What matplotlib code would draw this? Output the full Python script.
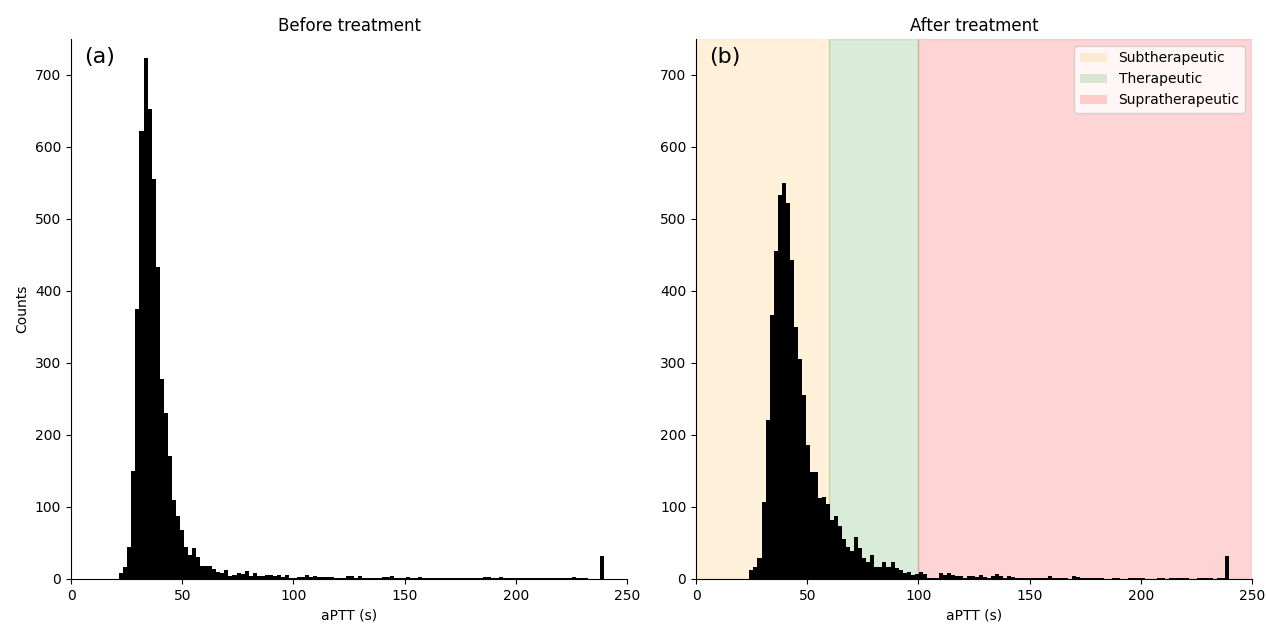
import numpy as np
import matplotlib
matplotlib.use("Agg")
import matplotlib.pyplot as plt
from matplotlib.patches import Patch

# ---- data (counts per histogram bin) ----
before_range = (21.7, 239.8)
before_counts = [8, 16, 45, 150, 375, 622, 723, 653, 555, 433, 278, 231, 171, 110, 88, 68, 44, 33, 43, 30,
                 18, 18, 18, 14, 10, 8, 12, 4, 5, 8, 7, 11, 4, 8, 4, 4, 6, 6, 4, 5,
                 3, 5, 1, 2, 3, 3, 5, 3, 4, 3, 3, 3, 3, 2, 2, 2, 4, 4, 2, 4,
                 2, 2, 2, 1, 1, 3, 3, 4, 2, 2, 1, 3, 2, 1, 3, 2, 2, 2, 2, 2,
                 2, 1, 1, 1, 2, 1, 2, 1, 1, 1, 3, 3, 2, 2, 3, 2, 2, 2, 1, 1,
                 2, 2, 1, 2, 2, 1, 1, 1, 2, 2, 1, 1, 3, 1, 1, 2, 0, 0, 0, 32]

after_range = (24.0, 239.7)
after_counts = [12, 17, 29, 107, 221, 367, 456, 534, 550, 522, 443, 350, 305, 255, 186, 148, 148, 112, 114, 104,
                82, 88, 73, 56, 44, 39, 58, 43, 29, 23, 34, 17, 17, 23, 17, 23, 15, 12, 8, 10,
                6, 7, 10, 7, 2, 2, 2, 8, 6, 8, 6, 4, 4, 2, 4, 4, 3, 5, 3, 1,
                4, 7, 4, 2, 4, 3, 2, 2, 2, 2, 2, 2, 2, 2, 4, 2, 1, 1, 1, 0,
                4, 3, 1, 1, 2, 2, 2, 1, 0, 0, 1, 1, 0, 0, 1, 1, 1, 1, 0, 0,
                0, 1, 1, 0, 1, 1, 1, 1, 1, 0, 0, 1, 1, 1, 1, 0, 2, 1, 32]

zones = ["Subtherapeutic", "Therapeutic", "Supratherapeutic"]
zone_bounds = [(0, 60), (60, 100), (100, 250)]
zone_colors = ["orange", "green", "red"]
zone_alpha = [0.15, 0.15, 0.17]

titles = ["Before treatment", "After treatment"]
panel_labels = ["(a)", "(b)"]
xlabel = "aPTT (s)"
ylabel = "Counts"

fig = plt.figure(figsize=(12.66, 6.26), dpi=100)
ax1 = fig.add_axes([0.0561, 0.0751, 0.4392, 0.8626])
ax2 = fig.add_axes([0.5498, 0.0751, 0.4392, 0.8626])

for ax, rng, counts, title, lab in [(ax1, before_range, before_counts, titles[0], panel_labels[0]),
                                     (ax2, after_range, after_counts, titles[1], panel_labels[1])]:
    edges = np.linspace(rng[0], rng[1], len(counts) + 1)
    centers = 0.5 * (edges[:-1] + edges[1:])
    ax.hist(centers, bins=edges, weights=counts, color="black")
    ax.set_xlim(0, 250)
    ax.set_ylim(0, 750)
    ax.set_title(title, fontsize=12)
    ax.set_xlabel(xlabel)
    ax.spines["top"].set_visible(False)
    ax.spines["right"].set_visible(False)
    ax.text(0.023, 0.985, lab, transform=ax.transAxes, fontsize=16, va="top", ha="left")

ax1.set_ylabel(ylabel)

handles = []
for name, (a, b), c, al in zip(zones, zone_bounds, zone_colors, zone_alpha):
    ax2.axvspan(a, b, color=c, alpha=al, zorder=0)
    handles.append(Patch(facecolor=c, alpha=al, label=name))
ax2.legend(handles=handles, loc="upper right", fontsize=10)

fig.savefig("out.png", dpi=100)
